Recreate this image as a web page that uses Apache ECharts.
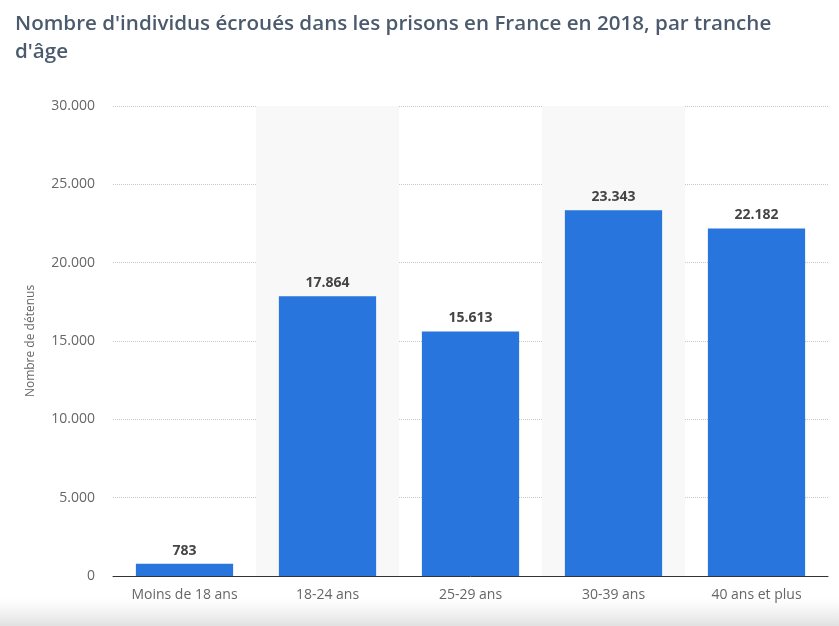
<!DOCTYPE html>
<html>
<head>
<meta charset="utf-8">
<script src="https://cdn.jsdelivr.net/npm/echarts@6/dist/echarts.min.js"></script>
<style>
  html,body{margin:0;padding:0;background:#fff;}
  #chart{width:839px;height:626px;}
</style>
</head>
<body>
<div id="chart"></div>
<script>
// tranches d'âge
var categories = ['Moins de 18 ans','18-24 ans','25-29 ans','30-39 ans','40 ans et plus'];
var values = [783, 17864, 15613, 23343, 22182];
var yTicks = [0, 5000, 10000, 15000, 20000, 25000, 30000];

function fmt(v){
    return String(v).replace(/\B(?=(\d{3})+(?!\d))/g, '.');
}

var myChart = echarts.init(document.getElementById('chart'));
var option = {
    backgroundColor:'#fff',
    animation:false,
    title:{
        text:"Nombre d'individus écroués dans les prisons en France en 2018, par tranche\nd'âge",
        left:10,
        top:5,
        textStyle:{
            fontFamily:'Open Sans',
            fontSize:20.6,
            fontWeight:600,
            color:'#4b5b6d',
            lineHeight:28
        }
    },
    graphic:[{
        type:'rect',
        left:0,
        top:598,
        shape:{width:839,height:28},
        silent:true,
        z:-1,
        style:{
            fill:new echarts.graphic.LinearGradient(0,0,0,1,[
                {offset:0,color:'rgba(235,235,235,0)'},
                {offset:1,color:'rgba(225,225,225,1)'}
            ])
        }
    }],
    grid:{
        left:113,
        right:11,
        top:106,
        bottom:50,
        containLabel:false
    },
    xAxis:{
        type:'category',
        data:categories,
        axisTick:{show:false},
        axisLine:{lineStyle:{color:'#333',width:1}},
        axisLabel:{
            fontFamily:'Open Sans',
            fontSize:14,
            color:'#666',
            margin:12
        },
        splitArea:{
            show:true,
            areaStyle:{color:['rgba(255,255,255,0)','#f8f8f8']}
        }
    },
    yAxis:{
        type:'value',
        min:yTicks[0],
        max:yTicks[yTicks.length-1],
        interval:5000,
        name:'Nombre de détenus',
        nameLocation:'middle',
        nameGap:76,
        nameTextStyle:{fontFamily:'Open Sans',fontSize:12,color:'#666'},
        axisLine:{show:false},
        axisTick:{show:false},
        axisLabel:{
            fontFamily:'Open Sans',
            fontSize:14,
            color:'#666',
            margin:18,
            formatter:function(v){ return fmt(v); }
        },
        splitLine:{lineStyle:{color:'#c8c8c8',type:'dotted',width:1}}
    },
    series:[{
        type:'bar',
        data:values,
        barWidth:'68%',
        itemStyle:{color:'#2876dd'},
        label:{
            show:true,
            position:'top',
            distance:6,
            fontFamily:'Open Sans',
            fontSize:14,
            fontWeight:'bold',
            color:'#444',
            formatter:function(p){ return fmt(p.value); }
        }
    }]
};
myChart.setOption(option);
</script>
</body>
</html>
